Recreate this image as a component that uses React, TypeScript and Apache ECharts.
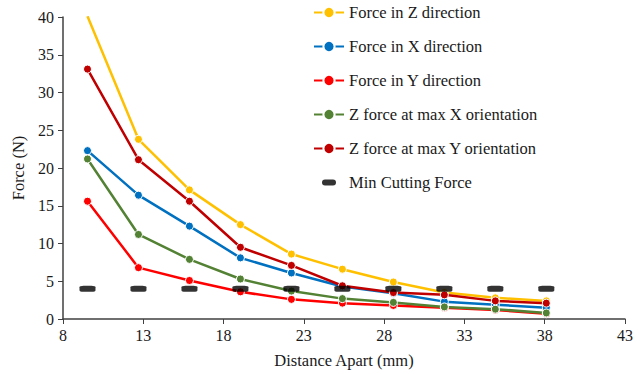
import React, { useEffect, useRef } from "react";
import * as echarts from "echarts";

const distances = [9.525, 12.7, 15.875, 19.05, 22.225, 25.4, 28.575, 31.75, 34.925, 38.1];
const forceZ = [40.1, 23.8, 17.1, 12.5, 8.6, 6.6, 4.9, 3.5, 2.8, 2.4];
const forceX = [22.3, 16.4, 12.3, 8.1, 6.1, 4.3, 3.4, 2.3, 1.9, 1.5];
const forceY = [15.6, 6.8, 5.1, 3.6, 2.6, 2.1, 1.8, 1.5, 1.2, 0.7];
const zAtMaxX = [21.2, 11.2, 7.9, 5.3, 3.7, 2.7, 2.2, 1.6, 1.3, 0.8];
const zAtMaxY = [33.1, 21.1, 15.6, 9.5, 7.1, 4.4, 3.5, 3.2, 2.4, 2.1];
const minCutting = [4, 4, 4, 4, 4, 4, 4, 4, 4, 4];

const seriesNames = [
  "Force in Z direction",
  "Force in X direction",
  "Force in Y direction",
  "Z force at max X orientation",
  "Z force at max Y orientation",
  "Min Cutting Force",
];
const seriesColors = ["#FFC000", "#0070C0", "#FF0000", "#548235", "#C00000", "#000000"];

const pair = (ys: number[]) => distances.map((x, i) => [x, ys[i]]);

export default function App() {
  const ref = useRef<HTMLDivElement>(null);
  useEffect(() => {
    if (!ref.current) return;
    const chart = echarts.init(ref.current, null, { renderer: "svg" });
    const font = "Liberation Serif";
    const lineData = [forceZ, forceX, forceY, zAtMaxX, zAtMaxY];
    const lines = lineData.map((d, i) => ({
      name: seriesNames[i],
      type: "line",
      data: pair(d),
      symbol: "circle",
      symbolSize: 8,
      lineStyle: { width: 2.5, color: seriesColors[i] },
      itemStyle: { color: seriesColors[i], borderColor: "#ffffff", borderWidth: 1 },
      z: 2,
    }));
    chart.setOption({
      animation: false,
      textStyle: { fontFamily: font },
      grid: { left: 63, right: 19, top: 17, bottom: 53, containLabel: false },
      legend: {
        orient: "vertical",
        left: 308,
        top: 4,
        padding: [0, 5],
        itemWidth: 30,
        itemHeight: 14,
        itemGap: 17,
        textStyle: { fontFamily: font, fontSize: 16.5, color: "#1a1a1a" },
        data: seriesNames.map((n, i) =>
          i === 5
            ? {
                name: n,
                icon: "path://M0,0L0,0M30,14L30,14M11,4h8a3,3,0,0,1,0,6h-8a3,3,0,0,1,0,-6z",
                itemStyle: { color: "#000" },
              }
            : { name: n }
        ),
      },
      xAxis: {
        type: "value",
        min: 8,
        max: 43,
        interval: 5,
        name: "Distance Apart (mm)",
        nameLocation: "middle",
        nameGap: 33,
        nameTextStyle: { fontFamily: font, fontSize: 16.5, color: "#1a1a1a" },
        axisLine: { show: true, lineStyle: { color: "#404040", width: 1.5 } },
        axisTick: { show: true, length: 5, lineStyle: { color: "#404040" } },
        axisLabel: { fontFamily: font, fontSize: 16, color: "#1a1a1a", margin: 8 },
        splitLine: { show: false },
      },
      yAxis: {
        type: "value",
        min: 0,
        max: 40,
        interval: 5,
        name: "Force (N)",
        nameLocation: "middle",
        nameGap: 34,
        nameTextStyle: { fontFamily: font, fontSize: 16.5, color: "#1a1a1a" },
        axisLine: { show: true, lineStyle: { color: "#404040", width: 1.5 } },
        axisTick: { show: true, length: 5, lineStyle: { color: "#404040" } },
        axisLabel: { fontFamily: font, fontSize: 16, color: "#1a1a1a", margin: 9 },
        splitLine: { show: false },
      },
      series: [
        ...lines,
        {
          name: seriesNames[5],
          type: "scatter",
          data: pair(minCutting),
          symbol: "roundRect",
          symbolSize: [16, 6],
          itemStyle: { color: "#000000" },
          z: 3,
        },
      ],
    });
    return () => chart.dispose();
  }, []);
  return (
    <div
      ref={ref}
      style={{ position: "absolute", left: 0, top: 0, width: 644, height: 374 }}
    />
  );
}
